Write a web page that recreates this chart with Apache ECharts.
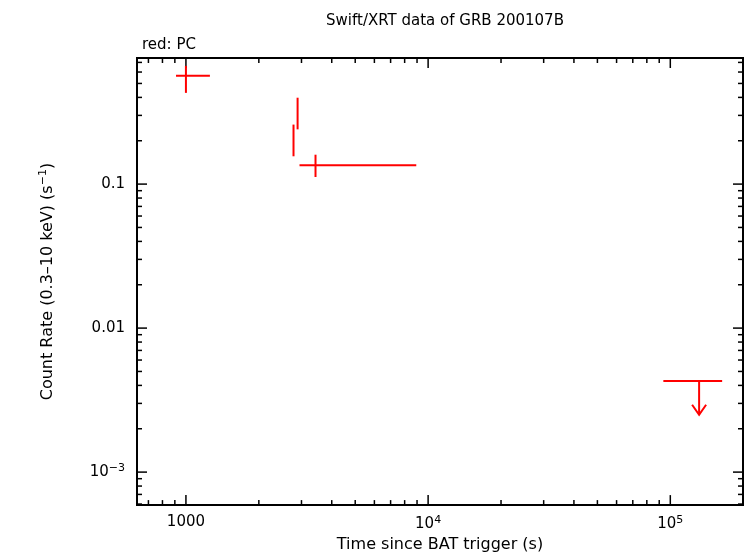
<!DOCTYPE html>
<html><head><meta charset="utf-8">
<script src="https://cdn.jsdelivr.net/npm/echarts@6/dist/echarts.min.js"></script>
<style>html,body{margin:0;padding:0;background:#fff}#c{width:746px;height:558px}</style>
</head><body><div id="c"></div>
<script>
// points: time, rate, tLo, tHi, rLo, rHi
const pcTime = [1000, 2781, 2891, 3428];
const pcRate = [0.565, 0.204, 0.318, 0.135];
const pcTLo = [910, 2781, 2891, 2944];
const pcTHi = [1256, 2781, 2891, 8935];
const pcRLo = [0.43, 0.156, 0.24, 0.112];
const pcRHi = [0.662, 0.259, 0.398, 0.16];
// upper limit
const ulTime = [131500];
const ulTLo = [93600];
const ulTHi = [163700];
const ulRate = [0.0043];
const ulArrowTo = [0.0025];
const xMajor = [1000, 10000, 100000];
const yMajor = [0.001, 0.01, 0.1];
const xMin = 628, xMax = 199600, yMin = 5.9e-4, yMax = 0.751;

const xTicks = [], yTicks = [];
for (let d = 2; d <= 5; d++) for (let k = 1; k <= 9; k++) { const v = k * Math.pow(10, d); if (v >= xMin && v <= xMax) xTicks.push([v, k === 1 ? 1 : 0]); }
for (let d = -4; d <= 0; d++) for (let k = 1; k <= 9; k++) { const v = k * Math.pow(10, d); if (v >= yMin && v <= yMax) yTicks.push([v, k === 1 ? 1 : 0]); }

const red = '#ff0000';
const ls = {stroke: red, lineWidth: 2};
const pts = pcTime.map((t, i) => [t, pcRate[i], pcTLo[i], pcTHi[i], pcRLo[i], pcRHi[i]]);
const uls = ulTime.map((t, i) => [t, ulRate[i], ulTLo[i], ulTHi[i], ulArrowTo[i]]);

function sup(v) {
  const e = Math.round(Math.log10(v));
  return '10{s|' + (e < 0 ? '\u2212' + (-e) : e) + '}';
}
const rich = {s: {fontSize: 11, verticalAlign: 'top', padding: [0, 0, 8, 0], fontFamily: 'DejaVu Sans', color: '#000'}};

const chart = echarts.init(document.getElementById('c'));
chart.setOption({
  animation: false,
  title: [
    {text: 'Swift/XRT data of GRB 200107B', left: 440, top: 9, textAlign: 'center', textStyle: {fontSize: 15, fontWeight: 'normal', fontFamily: 'DejaVu Sans', color: '#000'}},
    {text: 'red: PC', left: 137, top: 33, textStyle: {fontSize: 15, fontWeight: 'normal', fontFamily: 'DejaVu Sans', color: '#000'}}
  ],
  grid: {left: 137, right: 2, top: 58, bottom: 50, show: true, borderColor: '#000', borderWidth: 2},
  xAxis: {type: 'log', min: xMin, max: xMax, axisLine: {show: false}, axisTick: {show: false}, splitLine: {show: false},
    name: 'Time since BAT trigger (s)', nameLocation: 'middle', nameGap: 30, nameTextStyle: {fontSize: 16, fontFamily: 'DejaVu Sans', color: '#000'},
    axisLabel: {fontSize: 15, fontFamily: 'DejaVu Sans', color: '#000', margin: 10, rich,
      formatter: v => { const e = Math.round(Math.log10(v)); if (Math.abs(Math.log10(v) - e) > 1e-6) return ''; return e === 3 ? '1000' : sup(v); }}},
  yAxis: {type: 'log', min: yMin, max: yMax, axisLine: {show: false}, axisTick: {show: false}, splitLine: {show: false},
    name: 'Count Rate (0.3\u201310 keV) (s{s|\u22121})', nameLocation: 'middle', nameGap: 80, nameRotate: 90,
    nameTextStyle: {fontSize: 16, fontFamily: 'DejaVu Sans', color: '#000', rich: {s: {fontSize: 11, padding: [0,0,8,0], fontFamily: 'DejaVu Sans', color: '#000'}}},
    axisLabel: {fontSize: 15, fontFamily: 'DejaVu Sans', color: '#000', margin: 12, rich,
      formatter: v => { const e = Math.round(Math.log10(v)); if (Math.abs(Math.log10(v) - e) > 1e-6) return ''; return e === -1 ? '0.1' : e === -2 ? '0.01' : sup(v); }}},
  series: [
    {type: 'custom', data: xTicks, silent: true, renderItem: (p, api) => {
      const cs = p.coordSys; const x = api.coord([api.value(0), yMax])[0]; const L = api.value(1) ? 10 : 5;
      const b = cs.y + cs.height, t = cs.y;
      return {type: 'group', children: [
        {type: 'line', shape: {x1: x, y1: b, x2: x, y2: b - L}, style: {stroke: '#000', lineWidth: 1.5}},
        {type: 'line', shape: {x1: x, y1: t, x2: x, y2: t + L}, style: {stroke: '#000', lineWidth: 1.5}}]};
    }},
    {type: 'custom', data: yTicks, silent: true, renderItem: (p, api) => {
      const cs = p.coordSys; const y = api.coord([xMin, api.value(0)])[1]; const L = api.value(1) ? 10 : 5;
      const l = cs.x, r = cs.x + cs.width;
      return {type: 'group', children: [
        {type: 'line', shape: {x1: l, y1: y, x2: l + L, y2: y}, style: {stroke: '#000', lineWidth: 1.5}},
        {type: 'line', shape: {x1: r, y1: y, x2: r - L, y2: y}, style: {stroke: '#000', lineWidth: 1.5}}]};
    }},
    {type: 'custom', data: pts, renderItem: (p, api) => {
      const c = api.coord([api.value(0), api.value(1)]);
      const xl = api.coord([api.value(2), api.value(1)])[0], xh = api.coord([api.value(3), api.value(1)])[0];
      const yl = api.coord([api.value(0), api.value(4)])[1], yh = api.coord([api.value(0), api.value(5)])[1];
      return {type: 'group', children: [
        {type: 'line', shape: {x1: xl, y1: c[1], x2: xh, y2: c[1]}, style: ls},
        {type: 'line', shape: {x1: c[0], y1: yl, x2: c[0], y2: yh}, style: ls}]};
    }},
    {type: 'custom', data: uls, renderItem: (p, api) => {
      const c = api.coord([api.value(0), api.value(1)]);
      const xl = api.coord([api.value(2), api.value(1)])[0], xh = api.coord([api.value(3), api.value(1)])[0];
      const ya = api.coord([api.value(0), api.value(4)])[1];
      return {type: 'group', children: [
        {type: 'line', shape: {x1: xl, y1: c[1], x2: xh, y2: c[1]}, style: ls},
        {type: 'line', shape: {x1: c[0], y1: c[1], x2: c[0], y2: ya}, style: ls},
        {type: 'polyline', shape: {points: [[c[0] - 7, ya - 10], [c[0], ya], [c[0] + 7, ya - 10]]}, style: {stroke: red, lineWidth: 2, fill: null}}]};
    }}
  ]
});
</script></body></html>
